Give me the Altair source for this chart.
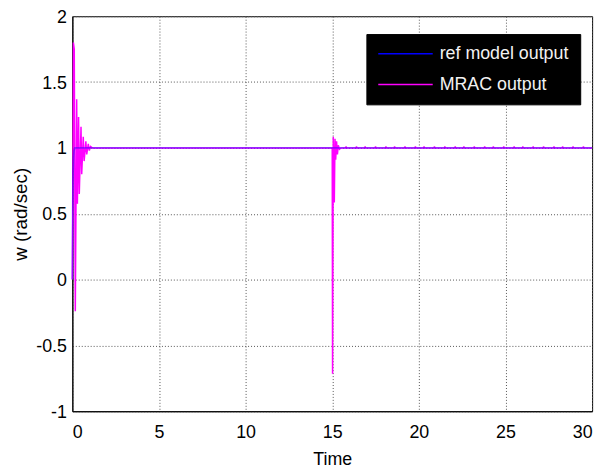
import altair as alt
import pandas as pd

# reference model output (blue)
ref_t = [0.0, 0.02, 0.04, 0.07, 0.10, 0.15, 30.0]
ref_w = [0.0, 0.50, 0.80, 0.93, 0.98, 1.00, 1.00]

# MRAC output (magenta): start-up transient and disturbance at t = 15
mrac_t = [0.0, 0.03, 0.06, 0.11, 0.17, 0.25, 0.29, 0.36, 0.40, 0.50, 0.54,
          0.63, 0.68, 0.78, 0.83, 0.92, 0.98, 1.05, 1.15,
          15.0, 15.02, 15.06, 15.12, 15.16, 15.20, 15.25, 15.30, 15.35, 15.42, 15.50]
mrac_w = [0.0, 0.60, 1.80, 1.75, -0.24, 1.37, 0.575, 1.235, 0.65, 1.16, 0.80,
          1.085, 0.90, 1.05, 0.95, 1.03, 0.98, 1.01, 1.00,
          1.00, -0.716, 1.085, 0.585, 1.07, 0.91, 1.05, 0.95, 1.02, 0.99, 1.00]

# tiny periodic bumps on the MRAC output after the disturbance
bump_t = [15.8, 16.4, 16.9, 17.5, 18.1, 18.6, 19.2, 19.8, 20.3, 20.9, 21.5, 22.1,
          22.6, 23.2, 23.8, 24.3, 24.9, 25.5, 26.0, 26.6, 27.2, 27.8, 28.3, 28.9, 29.5]
bump_w = 1.012

series_names = ["ref model output", "MRAC output"]
series_colors = ["#0000FF", "#FF00FF"]

x_ticks = [0, 5, 10, 15, 20, 25, 30]
y_ticks = [-1, -0.5, 0, 0.5, 1, 1.5, 2]

rows = []
for t, w in zip(ref_t, ref_w):
    rows.append({"t": t, "w": w, "series": series_names[0]})
mt = list(mrac_t)
mw = list(mrac_w)
for b in bump_t:
    mt += [b - 0.02, b, b + 0.02]
    mw += [1.0, bump_w, 1.0]
mt.append(30.0)
mw.append(1.0)
for t, w in sorted(zip(mt, mw)):
    rows.append({"t": t, "w": w, "series": series_names[1]})
df = pd.DataFrame(rows)

FONT = "Liberation Sans"

x_enc = alt.X(
    "t:Q",
    scale=alt.Scale(domain=[0, 30], nice=False, zero=False),
    axis=alt.Axis(values=x_ticks, title="Time", labelPadding=13,
                  titleFontSize=18, titleY=54, titleBaseline="alphabetic",
                  labelExpr="'' + datum.value"),
)
y_enc = alt.Y(
    "w:Q",
    scale=alt.Scale(domain=[-1, 2], nice=False, zero=False),
    axis=alt.Axis(values=y_ticks, title="w (rad/sec)", labelPadding=6, labelOffset=1,
                  titleFontSize=19, titleX=-52, titleY=199.5, titleAngle=270,
                  titleBaseline="middle", titleAlign="center",
                  labelExpr="'' + datum.value"),
)
color_enc = alt.Color(
    "series:N",
    scale=alt.Scale(domain=series_names, range=series_colors),
    legend=alt.Legend(
        title=None, orient="none", legendX=297, legendY=18,
        fillColor="black", strokeColor="black", padding=11, cornerRadius=0,
        symbolType="stroke", symbolSize=3025, symbolStrokeWidth=1.5,
        symbolOpacity=1, clipHeight=18, rowPadding=13,
        labelFontSize=18, labelColor="#f2f2f2", labelFont=FONT, labelOffset=6,
    ),
)

mrac = alt.Chart(df).transform_filter(
    alt.datum.series == series_names[1]
).mark_line(strokeWidth=1.5).encode(x=x_enc, y=y_enc, color=color_enc, order="t:Q")

ref = alt.Chart(df).transform_filter(
    alt.datum.series == series_names[0]
).mark_line(strokeWidth=1.8, opacity=0.4).encode(x=x_enc, y=y_enc, color=color_enc, order="t:Q")

chart = alt.layer(mrac, ref).properties(
    width=525, height=399,
    autosize=alt.AutoSizeParams(type="none"),
    padding={"left": 65, "top": 6, "right": 10, "bottom": 55},
    background="white",
).configure_view(
    stroke="black", strokeWidth=1
).configure_axis(
    labelFont=FONT, titleFont=FONT, labelFontSize=18, labelColor="black",
    titleColor="black", titleFontWeight="normal",
    domainColor="black", domainWidth=1, ticks=False,
    grid=True, gridColor="#555555", gridDash=[1, 2], gridOpacity=1, gridWidth=1,
)

chart.save("out.html", embed_options={"renderer": "svg", "actions": False})
